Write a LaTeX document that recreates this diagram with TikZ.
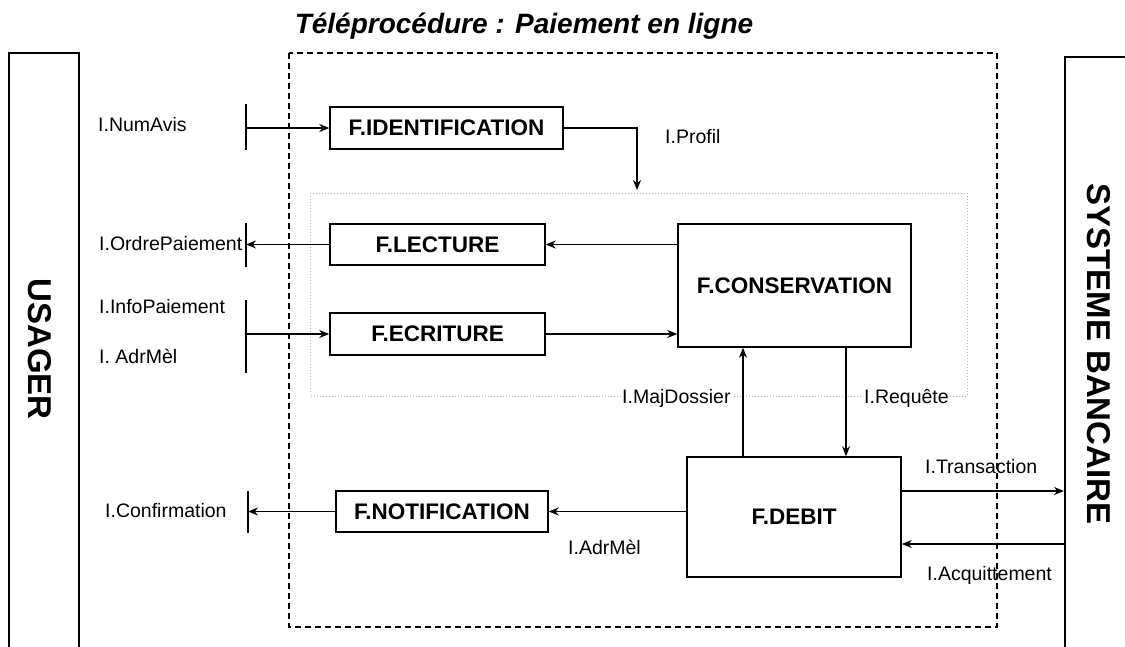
\documentclass[tikz,border=0pt]{standalone}
\usepackage{fontspec}
\setmainfont{Liberation Sans}
\usetikzlibrary{arrows.meta}
\begin{document}
\begin{tikzpicture}[x=1pt,y=-1pt,
  fbox/.style={draw, line width=1.5pt, inner sep=0pt, font=\fontsize{22.5}{26}\selectfont\bfseries},
  lab/.style={font=\fontsize{19.5}{22}\selectfont, inner sep=1pt, anchor=west},
  side/.style={font=\fontsize{33}{36}\selectfont\bfseries, rotate=-90, inner sep=0pt},
  conn/.style={line width=1.4pt, -{Stealth[length=10pt,width=8pt]}},
  frame/.style={line width=1.5pt},
  bar/.style={line width=1.5pt}]
\useasboundingbox (0,0) rectangle (1125,646);
% outer actors
\draw[frame] (9,647) -- (9,53) -- (79,53) -- (79,647);
\draw[frame] (1065,647) -- (1065,57) -- (1127,57);
\node[side] (usager) at (40,349) {USAGER};
\node[side] (bank) at (1099,354) {SYSTEME BANCAIRE};
% title
\node[font=\fontsize{28}{31}\selectfont\bfseries\itshape, anchor=base, inner sep=0pt] (title) at (524,33) {Téléprocédure : Paiement en ligne};
% inner dotted region and dashed system frame
\draw[gray!60, line width=1pt, dotted] (310,193) rectangle (967,396);
\draw[line width=1.3pt, dash pattern=on 6pt off 4pt] (289,53) rectangle (997,627);
% function boxes
\node[fbox, fill=white, minimum width=233pt, minimum height=42pt] (ident) at (446.5,128) {F.IDENTIFICATION};
\node[fbox, fill=white, minimum width=215pt, minimum height=41pt] (lect) at (437.5,244.5) {F.LECTURE};
\node[fbox, fill=white, minimum width=215pt, minimum height=42pt] (ecri) at (437.5,334) {F.ECRITURE};
\node[fbox, fill=white, minimum width=233pt, minimum height=123pt] (cons) at (794.5,285.5) {F.CONSERVATION};
\node[fbox, fill=white, minimum width=214pt, minimum height=120pt] (debit) at (794,517) {F.DEBIT};
\node[fbox, fill=white, minimum width=212pt, minimum height=41pt] (notif) at (442,511.5) {F.NOTIFICATION};
% bars on the user side
\draw[bar] (246,104) -- (246,150);
\draw[bar] (246,223) -- (246,267);
\draw[bar] (246,300) -- (246,373);
\draw[bar] (248,491) -- (248,533);
\coordinate (bnum) at (246,128);
\coordinate (bord) at (246,244.5);
\coordinate (binfo) at (246,334);
\coordinate (bconf) at (248,511.5);
\coordinate (prof) at (637,190);
\coordinate (xmaj) at (743,0);
\coordinate (xreq) at (846,0);
\coordinate (bankT) at (1064,491);
\coordinate (bankA) at (1065,544);
% connectors
\draw[conn] (bnum) -- (ident.west);
\draw[conn] (ident.east) -| (prof);
\draw[conn] (cons.west |- lect.east) -- (lect.east);
\draw[conn] (lect.west) -- (bord);
\draw[conn] (binfo) -- (ecri.west);
\draw[conn] (ecri.east) -- (cons.west |- ecri.east);
\draw[conn] (debit.north -| xmaj) -- (cons.south -| xmaj);
\draw[conn] (cons.south -| xreq) -- (debit.north -| xreq);
\draw[conn] (debit.west |- notif.east) -- (notif.east);
\draw[conn] (notif.west) -- (bconf);
\draw[conn] (debit.east |- bankT) -- (bankT);
\draw[conn] (bankA) -- (debit.east |- bankA);
% labels
\node[lab] (lnum) at (97,125) {I.NumAvis};
\node[lab] (lord) at (98,244) {I.OrdrePaiement};
\node[lab] (linfo) at (98,307) {I.InfoPaiement};
\node[lab] (ladr) at (98,356) {I. AdrMèl};
\node[lab] (lconf) at (104,511) {I.Confirmation};
\node[lab] (lprof) at (664,137) {I.Profil};
\node[lab, fill=white] (lmaj) at (621,398) {I.MajDossier};
\node[lab, fill=white] (lreq) at (863,398) {I.Requête};
\node[lab] (ladr2) at (567,547) {I.AdrMèl};
\node[lab] (ltra) at (924,467) {I.Transaction};
\node[lab] (lacq) at (926,575) {I.Acquittement};
\end{tikzpicture}
\end{document}
